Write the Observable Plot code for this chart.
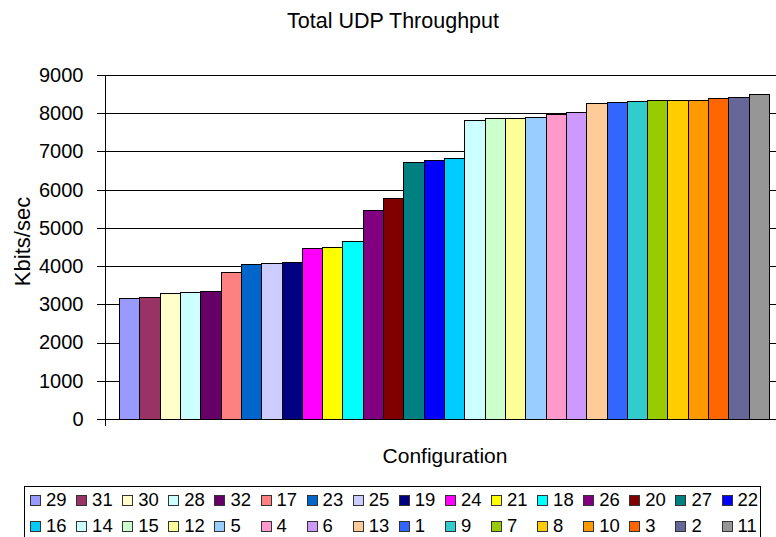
<!DOCTYPE html>
<html>
<head>
<meta charset="utf-8">
<script src="https://cdn.jsdelivr.net/npm/d3@7"></script>
<script src="https://cdn.jsdelivr.net/npm/@observablehq/plot@0.6"></script>
<style>
  html, body { margin: 0; padding: 0; background: #fff; }
  body { width: 776px; height: 537px; overflow: hidden; font-family: "Liberation Sans", Arial, sans-serif; }
  #chart svg { display: block; }
  #legend {
    position: relative;
    margin-left: 24px;
    width: 737px;
    height: 60px;
    border: 1px solid #000;
    box-sizing: border-box;
    font-size: 18.5px;
  }
  .item { position: absolute; display: flex; align-items: center; height: 20px; line-height: 20px; }
  .sw { width: 11px; height: 11px; box-sizing: border-box; border: 1px solid #333; margin-right: 5px; }
</style>
</head>
<body>
<div id="chart"></div>
<div id="legend"></div>
<script>
const labels = ["29","31","30","28","32","17","23","25","19","24","21","18","26","20","27","22",
                "16","14","15","12","5","4","6","13","1","9","7","8","10","3","2","11"];
const values = [3160,3190,3290,3320,3330,3830,4030,4070,4090,4470,4490,4650,5460,5770,6700,6760,
                6820,7815,7860,7860,7900,7970,8030,8250,8285,8300,8330,8330,8330,8390,8415,8485];
const colors = ["#9999FF","#993366","#FFFFCC","#CCFFFF","#660066","#FF8080","#0066CC","#CCCCFF",
                "#000080","#FF00FF","#FFFF00","#00FFFF","#800080","#800000","#008080","#0000FF",
                "#00CCFF","#CCFFFF","#CCFFCC","#FFFF99","#99CCFF","#FF99CC","#CC99FF","#FFCC99",
                "#3366FF","#33CCCC","#99CC00","#FFCC00","#FF9900","#FF6600","#666699","#969696"];
const yTicks = [0,1000,2000,3000,4000,5000,6000,7000,8000,9000];
const title = "Total UDP Throughput";
const yLabel = "Kbits/sec";
const xLabel = "Configuration";

const data = labels.map((l, i) => ({label: l, value: values[i], color: colors[i]}));

const chart = Plot.plot({
  width: 776,
  height: 486,
  marginTop: 75,
  marginBottom: 67,
  marginLeft: 105,
  marginRight: 0,
  style: {fontFamily: "'Liberation Sans', Arial, sans-serif", fontSize: "20px", background: "#fff", color: "#000"},
  x: {type: "band", domain: labels, range: [119.5, 769.5], padding: 0, round: false, axis: null},
  y: {domain: [0, 9000], axis: null},
  color: {type: "identity"},
  marks: [
    Plot.ruleY(yTicks.slice(1), {stroke: "#000", strokeWidth: 1, shapeRendering: "crispEdges"}),
    Plot.barY(data, {x: "label", y: "value", fill: "color", stroke: "#000", strokeWidth: 1, shapeRendering: "crispEdges"}),
    Plot.ruleY([0], {stroke: "#000", shapeRendering: "crispEdges"}),
    Plot.frame({anchor: "left", stroke: "#000", insetBottom: -6, shapeRendering: "crispEdges"}),
    Plot.axisY({ticks: yTicks, tickSize: 8, tickPadding: 14, tickFormat: d => String(d), fontSize: 20, label: null, shapeRendering: "crispEdges"}),
    Plot.text([title], {text: d => d, frameAnchor: "top", textAnchor: "middle", lineAnchor: "middle", dx: -48, dy: -54.5, fontSize: 21.5, fill: "#000"}),
    Plot.text([yLabel], {text: d => d, frameAnchor: "left", textAnchor: "middle", lineAnchor: "middle", dx: -83, dy: -6, rotate: -90, fontSize: 22, fill: "#000"}),
    Plot.text([xLabel], {text: d => d, frameAnchor: "bottom", textAnchor: "middle", lineAnchor: "middle", dx: 4, dy: 37, fontSize: 21, fill: "#000"})
  ]
});
document.getElementById("chart").appendChild(chart);

const legend = d3.select("#legend");
labels.forEach((l, i) => {
  const row = Math.floor(i / 16), col = i % 16;
  const item = legend.append("div").attr("class", "item")
    .style("left", (5 + col * 46.1) + "px")
    .style("top", (3 + row * 26) + "px");
  item.append("div").attr("class", "sw").style("background", colors[i]);
  item.append("span").text(l);
});
</script>
</body>
</html>
